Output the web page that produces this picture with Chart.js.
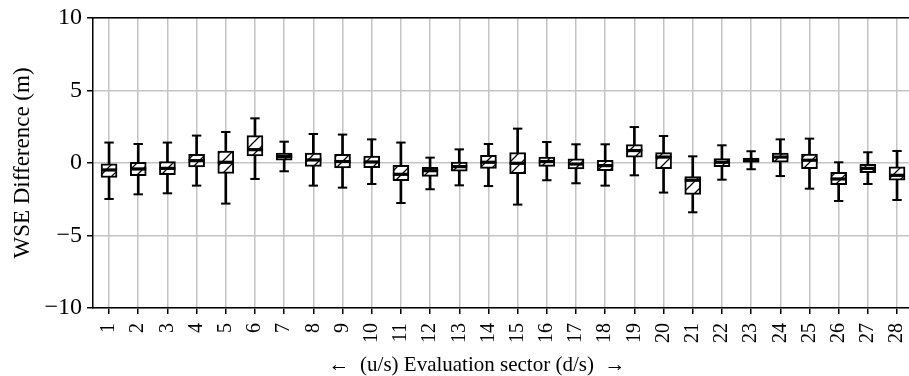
<!DOCTYPE html>
<html>
<head>
<meta charset="utf-8">
<script src="https://cdn.jsdelivr.net/npm/chart.js@4.4.1/dist/chart.umd.min.js"></script>
<style>
    html, body { margin: 0; padding: 0; background: #fff; overflow: hidden; }
    #wrap { width: 909px; height: 376px; }
</style>
</head>
<body>
<div id="wrap"><canvas id="boxChart"></canvas></div>
<script>
// Evaluation sectors (u/s -> d/s)
const sectors = [1, 2, 3, 4, 5, 6, 7, 8, 9, 10, 11, 12, 13, 14, 15, 16, 17, 18, 19, 20, 21, 22, 23, 24, 25, 26, 27, 28];

// Box plot statistics, WSE difference (m)
const whiskerHigh = [1.41, 1.31, 1.41, 1.89, 2.14, 3.08, 1.47, 2.00, 1.96, 1.63, 1.41, 0.37, 0.94, 1.31, 2.37, 1.45, 1.29, 1.29, 2.48, 1.86, 0.46, 1.22, 0.81, 1.63, 1.68, 0.05, 0.74, 0.83];
const q3 = [0.00, 0.05, 0.09, 0.60, 0.83, 1.89, 0.69, 0.69, 0.60, 0.48, -0.16, -0.30, 0.07, 0.53, 0.72, 0.41, 0.28, 0.19, 1.27, 0.72, -0.94, 0.30, 0.34, 0.69, 0.62, -0.64, -0.09, -0.27];
const median = [-0.48, -0.41, -0.37, 0.16, 0.05, 0.92, 0.44, 0.21, 0.10, 0.07, -0.78, -0.53, -0.25, 0.05, -0.02, 0.10, -0.07, -0.18, 0.86, 0.41, -1.19, 0.05, 0.16, 0.41, 0.19, -1.10, -0.37, -0.85];
const q1 = [-1.00, -0.87, -0.80, -0.27, -0.71, 0.48, 0.19, -0.23, -0.34, -0.32, -1.21, -0.92, -0.57, -0.37, -0.73, -0.23, -0.41, -0.53, 0.41, -0.39, -2.16, -0.25, 0.00, 0.05, -0.39, -1.49, -0.66, -1.19];
const whiskerLow = [-2.48, -2.16, -2.09, -1.56, -2.80, -1.10, -0.57, -1.56, -1.70, -1.45, -2.76, -1.81, -1.54, -1.59, -2.87, -1.19, -1.40, -1.56, -0.85, -2.04, -3.40, -1.15, -0.43, -0.90, -1.77, -2.62, -1.45, -2.55];

const yTicks = [-10, -5, 0, 5, 10];
const xTitle = '\u2190  (u/s) Evaluation sector (d/s)  \u2192';
const yTitle = 'WSE Difference (m)';

const serif = "'Liberation Serif', 'Times New Roman', serif";
const gridColor = '#c4c4c4';

// hachure '/' pour les boites
function makeHatch() {
    const c = document.createElement('canvas');
    const s = 12;
    c.width = s; c.height = s;
    const g = c.getContext('2d');
    g.fillStyle = '#fff';
    g.fillRect(0, 0, s, s);
    g.strokeStyle = '#000';
    g.lineWidth = 1.3;
    g.beginPath();
    g.moveTo(-1, s + 1); g.lineTo(s + 1, -1);
    g.moveTo(-1, 1); g.lineTo(1, -1);
    g.moveTo(s - 1, s + 1); g.lineTo(s + 1, s - 1);
    g.stroke();
    return g.createPattern(c, 'repeat');
}

const fmt = v => (v < 0 ? '\u2212' + Math.abs(v) : String(v));

// titre de l'axe x, legerement decale a gauche comme dans la figure
const xTitlePlugin = {
    id: 'xTitle',
    afterDraw(chart) {
        const { ctx, chartArea } = chart;
        ctx.save();
        ctx.font = '21px ' + serif;
        ctx.fillStyle = '#000';
        ctx.textAlign = 'center';
        ctx.textBaseline = 'middle';
        const cx = (chartArea.left + chartArea.right) / 2 - 24;
        ctx.fillText(xTitle, cx, chartArea.bottom + 57);
        ctx.restore();
    }
};

const hatch = makeHatch();

new Chart(document.getElementById('boxChart'), {
    data: {
        datasets: [
            {
                type: 'line',
                label: 'median',
                data: sectors.map((s, i) => ({ x: s, y: median[i] })),
                showLine: false,
                pointStyle: 'line',
                pointRadius: 8,
                pointBorderWidth: 3.2,
                pointBorderColor: '#000',
                order: 0
            },
            {
                type: 'line',
                label: 'caps',
                data: sectors.flatMap((s, i) => [{ x: s, y: whiskerHigh[i] }, { x: s, y: whiskerLow[i] }]),
                showLine: false,
                pointStyle: 'line',
                pointRadius: 4.7,
                pointBorderWidth: 2,
                pointBorderColor: '#000',
                order: 1
            },
            {
                type: 'bar',
                label: 'box',
                data: sectors.map((s, i) => ({ x: s, y: [q1[i], q3[i]] })),
                backgroundColor: hatch,
                borderColor: '#000',
                borderWidth: 2,
                borderSkipped: false,
                barThickness: 16,
                grouped: false,
                order: 2
            },
            {
                type: 'bar',
                label: 'whisker',
                data: sectors.map((s, i) => ({ x: s, y: [whiskerLow[i], whiskerHigh[i]] })),
                backgroundColor: '#000',
                borderWidth: 0,
                barThickness: 2,
                grouped: false,
                order: 3
            }
        ]
    },
    options: {
        responsive: true,
        maintainAspectRatio: false,
        animation: false,
        layout: { autoPadding: false, padding: { top: 18, right: 0, bottom: 0, left: 0 } },
        plugins: {
            legend: { display: false },
            tooltip: { enabled: false }
        },
        scales: {
            x: {
                type: 'linear',
                position: 'bottom',
                offset: false,
                min: 0.45,
                max: 28.41,
                afterBuildTicks: s => { s.ticks = sectors.map(v => ({ value: v })); },
                afterFit: s => { s.height = 68; s.paddingLeft = 0; s.paddingRight = 0; },
                grid: { offset: false, color: gridColor, lineWidth: 1.5, tickLength: 6, tickColor: '#000', tickWidth: 1.5 },
                border: { color: '#000', width: 1.5 },
                ticks: {
                    autoSkip: false,
                    minRotation: 90,
                    maxRotation: 90,
                    padding: 9,
                    color: '#000',
                    font: { family: serif, size: 20 },
                    callback: v => String(v)
                }
            },
            x2: {
                type: 'linear',
                position: 'top',
                offset: false,
                min: 0.45,
                max: 28.41,
                afterFit: s => { s.height = 0; s.paddingLeft = 0; s.paddingRight = 0; },
                grid: { display: false, offset: false },
                border: { color: '#000', width: 1.5 },
                ticks: { display: false }
            },
            y: {
                min: -10,
                max: 10,
                afterBuildTicks: s => { s.ticks = yTicks.map(v => ({ value: v })); },
                afterFit: s => { s.width = 93; s.paddingTop = 0; s.paddingBottom = 0; },
                grid: { color: gridColor, lineWidth: 1.5, tickLength: 6, tickColor: '#000', tickWidth: 1.5 },
                border: { color: '#000', width: 1.5 },
                ticks: {
                    padding: 5,
                    color: '#000',
                    font: { family: serif, size: 24 },
                    callback: v => fmt(v)
                },
                title: {
                    display: true,
                    text: yTitle,
                    color: '#000',
                    font: { family: serif, size: 23 },
                    padding: { top: 9, bottom: 0 }
                }
            }
        }
    },
    plugins: [xTitlePlugin]
});
</script>
</body>
</html>
